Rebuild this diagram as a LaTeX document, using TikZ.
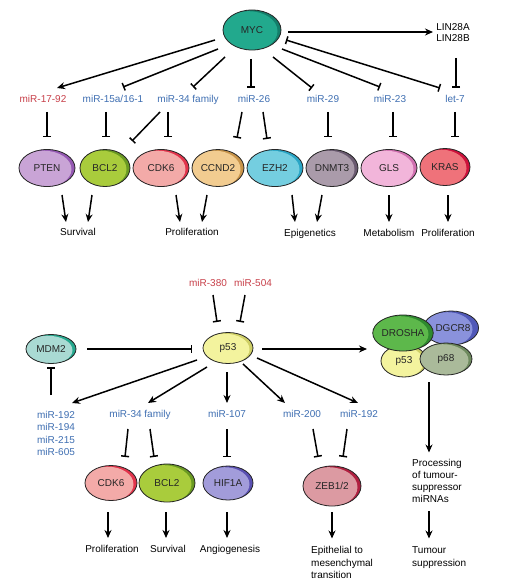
\documentclass[tikz,border=0pt]{standalone}
\usepackage{fontspec}
\setmainfont{Liberation Sans}
\usetikzlibrary{arrows.meta,shapes.geometric,calc}
\definecolor{mirred}{HTML}{C8404A}
\definecolor{mirblue}{HTML}{3F6FB2}
\definecolor{MYCl}{HTML}{22A98D}\definecolor{MYCd}{HTML}{137F6B}
\definecolor{PTENl}{HTML}{C9A4D6}\definecolor{PTENd}{HTML}{9458B2}
\definecolor{BCLl}{HTML}{A9CC3C}\definecolor{BCLd}{HTML}{6A9A22}
\definecolor{CDKl}{HTML}{F3AAA8}\definecolor{CDKd}{HTML}{E2344C}
\definecolor{CCNl}{HTML}{F2CC90}\definecolor{CCNd}{HTML}{C8944A}
\definecolor{EZHl}{HTML}{74CEE0}\definecolor{EZHd}{HTML}{2AA6C6}
\definecolor{DNMl}{HTML}{AA9BAA}\definecolor{DNMd}{HTML}{6A5A70}
\definecolor{GLSl}{HTML}{F2B5DA}\definecolor{GLSd}{HTML}{D070B0}
\definecolor{KRASl}{HTML}{EF727A}\definecolor{KRASd}{HTML}{CE123C}
\definecolor{MDMl}{HTML}{A9DAD3}\definecolor{MDMd}{HTML}{25A88E}
\definecolor{P53l}{HTML}{F3F39E}\definecolor{P53d}{HTML}{CFCF66}
\definecolor{HIFl}{HTML}{A29CDA}\definecolor{HIFd}{HTML}{5A50B2}
\definecolor{ZEBl}{HTML}{DC9AA2}\definecolor{ZEBd}{HTML}{B02040}
\definecolor{DROl}{HTML}{5DB84B}\definecolor{DROd}{HTML}{2E8A2E}
\definecolor{DGCl}{HTML}{8A92DC}\definecolor{DGCd}{HTML}{5058B8}
\definecolor{P68l}{HTML}{AABA9A}\definecolor{P68d}{HTML}{6E8A5E}
\newcommand{\lblfont}{\fontsize{10}{12}\selectfont}
\tikzset{
  erx/.code={\def\grx{#1}\pgfkeysalso{minimum width=2*#1pt}},
  ery/.code={\def\gry{#1}\pgfkeysalso{minimum height=2*#1pt}},
  gene/.style 2 args={ellipse, inner sep=0pt, draw=black!85, line width=0.8pt,
    fill=#2, font=\lblfont, text=black!85,
    path picture={\fill[#1] ([xshift=-3.5pt,yshift=-1.2pt]path picture bounding box.center)
      ellipse [x radius=\grx pt, y radius=\gry pt];}},
  lab/.style={font=\lblfont, inner sep=0pt, text height=7.5pt, text depth=2pt},
  blu/.style={lab, text=mirblue},
  rd/.style={lab, text=mirred},
  mlines/.style={font=\fontsize{10}{12.5}\selectfont, inner sep=0pt, align=left},
  act/.style={-{Stealth[length=8pt,width=7pt]}, line width=1.5pt},
  inh/.style={-{Bar[width=8pt]}, line width=1.5pt},
}
\begin{document}
\begin{tikzpicture}[x=1pt,y=-1pt]
\useasboundingbox[fill=white] (0,0) rectangle (510,583);

% ---------- top panel ----------
\node[gene={MYCl}{MYCd}, erx=29, ery=20] (MYC) at (252,30) {MYC};
\node[lab, align=center, font=\fontsize{10}{11}\selectfont] (LIN) at (453,38.5) {LIN28A\\LIN28B};

\node[rd]  (m1792) at (43,100) {miR-17-92};
\node[blu] (m15a)  at (113,100) {miR-15a/16-1};
\node[blu] (m34)   at (188,100) {miR-34 family};
\node[blu] (m26)   at (254,100) {miR-26};
\node[blu] (m29)   at (323,100) {miR-29};
\node[blu] (m23)   at (390,100) {miR-23};
\node[blu] (let7)  at (455,100) {let-7};

\node[gene={PTENl}{PTENd}, erx=28, ery=18.5] (PTEN)  at (47,168)  {PTEN};
\node[gene={BCLl}{BCLd},   erx=25, ery=18.5] (BCL2)  at (105,168) {BCL2};
\node[gene={CDKl}{CDKd},   erx=28, ery=18.5] (CDK6)  at (161,168) {CDK6};
\node[gene={CCNl}{CCNd},   erx=26, ery=18.5] (CCND2) at (218,168) {CCND2};
\node[gene={EZHl}{EZHd},   erx=28, ery=18.5] (EZH2)  at (275,168) {EZH2};
\node[gene={DNMl}{DNMd},   erx=26, ery=18.5] (DNMT3) at (332,168) {DNMT3};
\node[gene={GLSl}{GLSd},   erx=28, ery=18.5] (GLS)   at (389,168) {GLS};
\node[gene={KRASl}{KRASd}, erx=25, ery=18.5] (KRAS)  at (445,167) {KRAS};

\node[lab] (Surv)  at (78,233)  {Survival};
\node[lab] (Prol1) at (192,233) {Proliferation};
\node[lab] (Epi)   at (310,234) {Epigenetics};
\node[lab] (Met)   at (389,234) {Metabolism};
\node[lab] (Prol2) at (448,234) {Proliferation};

\draw[act] ($(MYC)+(-37,10)$) -- ($(m1792)+(14,-12)$);
\draw[inh] ($(MYC)+(-34,19)$) -- ($(m15a)+(10,-13)$);
\draw[inh] ($(MYC)+(-27,27)$) -- ($(m34)+(5,-13)$);
\draw[inh] ($(MYC)+(-1,29)$) -- ($(m26)+(-3,-12)$);
\draw[inh] ($(MYC)+(21,27)$) -- ($(m29)+(-11,-12)$);
\draw[inh] ($(MYC)+(30,19)$) -- ($(m23)+(-10,-13)$);
\draw[{Bar[width=8pt]}-{Bar[width=8pt]}, line width=1.5pt] ($(MYC)+(34,10)$) -- ($(let7)+(-15,-12)$);
\draw[act] ($(MYC)+(36,2)$) -- ($(LIN)+(-20,-6.5)$);
\draw[inh] ($(LIN)+(3,19.5)$) -- ($(let7)+(1,-12)$);

\draw[inh] ($(m1792)+(4,12)$) -- ($(PTEN)+(0,-31)$);
\draw[inh] ($(m15a)+(-7,12)$) -- ($(BCL2)+(1,-31)$);
\draw[inh] ($(m34)+(-28,12)$) -- ($(BCL2)+(27,-27)$);
\draw[inh] ($(m34)+(-20,12)$) -- ($(CDK6)+(7,-31)$);
\draw[inh] ($(m26)+(-12,12)$) -- ($(CCND2)+(19,-30)$);
\draw[inh] ($(m26)+(9,12)$) -- ($(EZH2)+(-8,-29)$);
\draw[inh] ($(m29)+(5,12)$) -- ($(DNMT3)+(-4,-31)$);
\draw[inh] ($(m23)+(3,12)$) -- ($(GLS)+(4,-31)$);
\draw[inh] ($(let7)+(0,12)$) -- ($(KRAS)+(10,-30)$);

\draw[act] ($(PTEN)+(15,27)$) -- ($(Surv)+(-12,-11)$);
\draw[act] ($(BCL2)+(-13,27)$) -- ($(Surv)+(10,-11)$);
\draw[act] ($(CDK6)+(15,27)$) -- ($(Prol1)+(-12,-11)$);
\draw[act] ($(CCND2)+(-11,27)$) -- ($(Prol1)+(10,-11)$);
\draw[act] ($(EZH2)+(17,27)$) -- ($(Epi)+(-15,-12)$);
\draw[act] ($(DNMT3)+(-10,27)$) -- ($(Epi)+(7,-12)$);
\draw[act] ($(GLS)+(0,27)$) -- ($(Met)+(0,-12)$);
\draw[act] ($(KRAS)+(3,28)$) -- ($(Prol2)+(0,-12)$);

% ---------- bottom panel ----------
\node[rd] (m380) at (208,284) {miR-380};
\node[rd] (m504) at (253,284) {miR-504};

\node[gene={MDMl}{MDMd}, erx=25, ery=14.5] (MDM2) at (51,349) {MDM2};
\node[gene={P53l}{P53d}, erx=25, ery=15.5] (p53) at (228,348) {p53};

\node[gene={DGCl}{DGCd}, erx=25, ery=17] (DGCR8) at (451,328) {\hspace*{4pt}DGCR8};
\node[gene={P53l}{P53d}, erx=23, ery=16] (p53c) at (404,361) {\raisebox{-3pt}{p53}};
\node[gene={P68l}{P68d}, erx=26, ery=16] (p68) at (446,359) {p68};
\node[gene={DROl}{DROd}, erx=29, ery=18] (DROSHA) at (403,333) {DROSHA};

\node[font=\fontsize{10}{12.3}\selectfont, text=mirblue, inner sep=0pt, align=center, anchor=north] (mlist) at (56,411) {miR-192\\miR-194\\miR-215\\miR-605};
\node[blu] (m34b)  at (140,415) {miR-34 family};
\node[blu] (m107)  at (227,415) {miR-107};
\node[blu] (m200)  at (302,415) {miR-200};
\node[blu] (m192b) at (359,415) {miR-192};

\node[gene={CDKl}{CDKd}, erx=26, ery=17.5] (CDK6b) at (111,483) {CDK6};
\node[gene={BCLl}{BCLd}, erx=28, ery=19]   (BCL2b) at (167,483) {BCL2};
\node[gene={HIFl}{HIFd}, erx=25, ery=17]   (HIF1A) at (228,483) {HIF1A};
\node[gene={ZEBl}{ZEBd}, erx=29, ery=20]   (ZEB)   at (332,486) {ZEB1/2};

\node[lab] (Prolb) at (112,550) {Proliferation};
\node[lab] (Survb) at (168,550) {Survival};
\node[lab] (Angio) at (230,550) {Angiogenesis};
\node[mlines, anchor=north west] (EMT) at (311,546.5) {Epithelial to\\mesenchymal\\transition};
\node[mlines, anchor=north west, font=\fontsize{10}{12}\selectfont] (Proc) at (412,459.5) {Processing\\of tumour-\\suppressor\\miRNAs};
\node[mlines, anchor=north west] (Tum) at (412,546.5) {Tumour\\suppression};

\draw[inh] ($(m380)+(5,11)$) -- ($(p53)+(-11,-26)$);
\draw[inh] ($(m504)+(-8,11)$) -- ($(p53)+(12,-26)$);
\draw[inh] ($(MDM2)+(36,0)$) -- ($(p53)+(-36,1)$);
\draw[act] ($(p53)+(34,1)$) -- ($(DROSHA)+(-36,16)$);

\draw[inh] ($(mlist.north)+(-5,-16)$) -- ($(MDM2)+(0,18)$);
\draw[act] ($(p53)+(-31,12)$) -- ($(mlist.north)+(16,-8)$);
\draw[act] ($(p53)+(-21,19)$) -- ($(m34b)+(8,-12)$);
\draw[act] ($(p53)+(-1,24)$) -- ($(m107)+(0,-12)$);
\draw[act] ($(p53)+(15,16)$) -- ($(m200)+(-17,-12)$);
\draw[act] ($(p53)+(29,10)$) -- ($(m192b)+(-1,-12)$);

\draw[inh] ($(m34b)+(-12,14)$) -- ($(CDK6b)+(14,-26)$);
\draw[inh] ($(m34b)+(10,14)$) -- ($(BCL2b)+(-13,-26)$);
\draw[inh] ($(m107)+(0,14)$) -- ($(HIF1A)+(-1,-26)$);
\draw[inh] ($(m200)+(11,14)$) -- ($(ZEB)+(-14,-29)$);
\draw[inh] ($(m192b)+(-12,14)$) -- ($(ZEB)+(11,-29)$);

\draw[act] ($(CDK6b)+(-3,29)$) -- ($(Prolb)+(-4,-12)$);
\draw[act] ($(BCL2b)+(-1,29)$) -- ($(Survb)+(-2,-12)$);
\draw[act] ($(HIF1A)+(-1,29)$) -- ($(Angio)+(-3,-12)$);
\draw[act] ($(ZEB)+(0,26)$) -- ($(EMT.north west)+(21,-8)$);
\draw[act] ($(p68)+(-17,23)$) -- ($(Proc.north west)+(17,-7)$);
\draw[act] ($(Proc.south west)+(17,8)$) -- ($(Tum.north west)+(17,-8)$);
\end{tikzpicture}
\end{document}
